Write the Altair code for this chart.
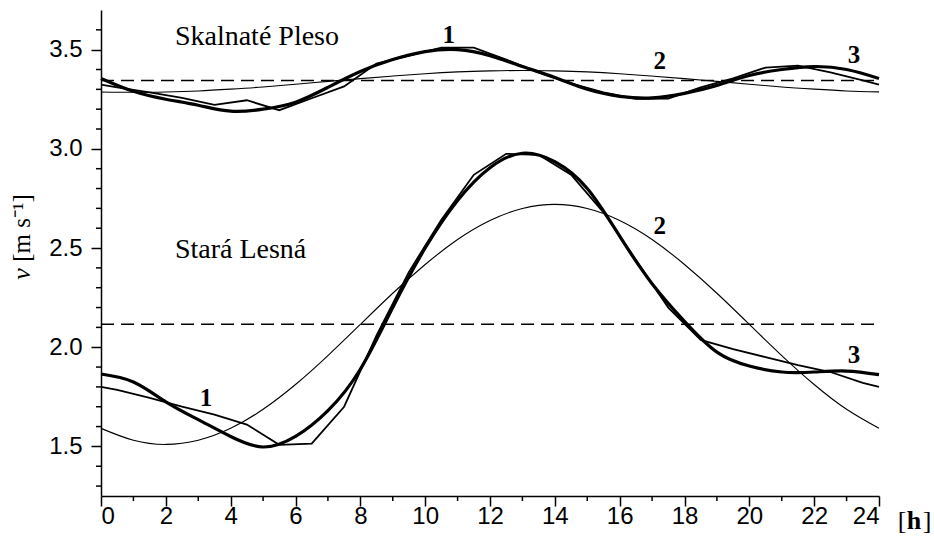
import altair as alt
import pandas as pd

# ---- data ----
hours = list(range(25))
half_hours = [0] + [h + 0.5 for h in range(24)] + [24]

# Skalnaté Pleso
sp_measured = [3.324, 3.31, 3.285, 3.257, 3.222, 3.245, 3.195, 3.255, 3.315, 3.43, 3.47,
               3.51, 3.51, 3.45, 3.385, 3.33, 3.285, 3.252, 3.253, 3.31, 3.355, 3.41,
               3.42, 3.385, 3.345, 3.324]
sp_harm1 = [3.287, 3.285, 3.287, 3.292, 3.301, 3.312, 3.326, 3.340, 3.354, 3.367, 3.379,
            3.388, 3.393, 3.395, 3.393, 3.388, 3.379, 3.367, 3.354, 3.340, 3.326, 3.312,
            3.301, 3.292, 3.287]
sp_harm3 = [3.355, 3.29, 3.25, 3.22, 3.19, 3.20, 3.235, 3.31, 3.39, 3.45, 3.49, 3.50, 3.47,
            3.415, 3.36, 3.30, 3.265, 3.257, 3.28, 3.32, 3.37, 3.40, 3.415, 3.40, 3.355]
sp_mean = 3.344

# Stará Lesná
sl_measured = [1.80, 1.785, 1.745, 1.70, 1.66, 1.61, 1.508, 1.514, 1.70, 2.06, 2.38, 2.643,
               2.869, 2.975, 2.97, 2.87, 2.68, 2.44, 2.20, 2.037, 1.99, 1.95, 1.91, 1.875,
               1.82, 1.80]
sl_harm1 = [1.591, 1.531, 1.510, 1.531, 1.591, 1.687, 1.812, 1.958, 2.115, 2.272, 2.417,
            2.543, 2.639, 2.699, 2.720, 2.699, 2.639, 2.543, 2.417, 2.272, 2.115, 1.958,
            1.812, 1.687, 1.591]
sl_harm3 = [1.865, 1.825, 1.725, 1.635, 1.55, 1.497, 1.55, 1.68, 1.889, 2.20, 2.50, 2.74,
            2.905, 2.978, 2.935, 2.80, 2.56, 2.32, 2.13, 1.975, 1.905, 1.875, 1.875, 1.88,
            1.862]
sl_mean = 2.116

stations = ["Skalnaté Pleso", "Stará Lesná"]
label_text = ["1", "2", "3", "1", "2", "3"]
label_t = [10.73, 17.24, 23.23, 3.24, 17.24, 23.23]
label_v = [3.534, 3.403, 3.433, 1.704, 2.572, 1.919]
station_t = [2.28, 2.28]
station_v = [3.525, 2.45]

x_major_ticks = [0, 2, 4, 6, 8, 10, 12, 14, 16, 18, 20, 22, 24]
x_minor_ticks = [1, 3, 5, 7, 9, 11, 13, 15, 17, 19, 21, 23]
y_major_ticks = [1.5, 2.0, 2.5, 3.0, 3.5]
y_minor_ticks = [1.3, 1.4, 1.6, 1.7, 1.8, 1.9, 2.1, 2.2, 2.3, 2.4, 2.6, 2.7, 2.8, 2.9,
                 3.1, 3.2, 3.3, 3.4, 3.6]

# ---- tables ----
measured = pd.concat([
    pd.DataFrame({"t": half_hours, "v": sp_measured, "station": stations[0]}),
    pd.DataFrame({"t": half_hours, "v": sl_measured, "station": stations[1]}),
])
harm1 = pd.concat([
    pd.DataFrame({"t": hours, "v": sp_harm1, "station": stations[0]}),
    pd.DataFrame({"t": hours, "v": sl_harm1, "station": stations[1]}),
])
harm3 = pd.concat([
    pd.DataFrame({"t": hours, "v": sp_harm3, "station": stations[0]}),
    pd.DataFrame({"t": hours, "v": sl_harm3, "station": stations[1]}),
])
means = pd.DataFrame({"t": [0, 24, 0, 24], "v": [sp_mean, sp_mean, sl_mean, sl_mean],
                      "station": [stations[0]] * 2 + [stations[1]] * 2})
labels = pd.DataFrame({"t": label_t, "v": label_v, "txt": label_text})
st_labels = pd.DataFrame({"t": station_t, "v": station_v, "txt": stations})
xminor = pd.DataFrame({"t": x_minor_ticks})
yminor = pd.DataFrame({"v": y_minor_ticks})

xscale = alt.Scale(domain=[0, 24], nice=False)
yscale = alt.Scale(domain=[1.25, 3.7], nice=False, zero=False)

xaxis = alt.Axis(values=x_major_ticks, title=None, labelOverlap=False, format="d",
                 tickSize=10, labelPadding=-2)
yaxis = alt.Axis(values=y_major_ticks, title=None, labelOverlap=False, format=".1f",
                 tickSize=10, labelPadding=9)

X = alt.X("t:Q", scale=xscale, axis=xaxis)
Y = alt.Y("v:Q", scale=yscale, axis=yaxis)

dashed = alt.Chart(means).mark_line(color="black", strokeWidth=1.5, strokeDash=[13, 7]).encode(
    x=X, y=Y, detail="station:N")
thin = alt.Chart(harm1).mark_line(color="black", strokeWidth=1.1, interpolate="natural").encode(
    x=X, y=Y, detail="station:N")
medium = alt.Chart(measured).mark_line(color="black", strokeWidth=1.8).encode(
    x=X, y=Y, detail="station:N")
thick = alt.Chart(harm3).mark_line(color="black", strokeWidth=3.2, interpolate="natural").encode(
    x=X, y=Y, detail="station:N")

# minor ticks, placed through the scales
xminor_rules = alt.Chart(xminor).mark_rule(color="black", strokeWidth=1.5).encode(
    x=alt.X("t:Q", scale=xscale), y=alt.value(486), y2=alt.value(491))
yminor_rules = alt.Chart(yminor).mark_rule(color="black", strokeWidth=1.5).encode(
    y=alt.Y("v:Q", scale=yscale), x=alt.value(-5), x2=alt.value(0))

num_text = alt.Chart(labels).mark_text(font="Liberation Serif", fontWeight="bold", fontSize=25,
                                       align="center", baseline="alphabetic", color="black").encode(
    x=alt.X("t:Q", scale=xscale), y=alt.Y("v:Q", scale=yscale), text="txt:N")
st_text = alt.Chart(st_labels).mark_text(font="Liberation Serif", fontSize=28,
                                         align="left", baseline="alphabetic", color="black").encode(
    x=alt.X("t:Q", scale=xscale), y=alt.Y("v:Q", scale=yscale), text="txt:N")

one = pd.DataFrame({"a": [0]})
def free_text(txt, px, py, **kw):
    return alt.Chart(one).mark_text(font="Liberation Serif", color="black", align="center",
                                    baseline="middle", **kw).encode(
        x=alt.value(px), y=alt.value(py), text=alt.value(txt))

ytitle_v = free_text("v", -79, 264, fontSize=26, fontStyle="italic", angle=270)
ytitle_u = free_text("[m s\u207b\u00b9]", -79, 218, fontSize=25, angle=270)
xt1 = free_text("[", 801, 511, fontSize=26)
xt2 = free_text("h", 813, 511, fontSize=26, fontWeight="bold")
xt3 = free_text("]", 826, 511, fontSize=26)

chart = alt.layer(
    dashed, thin, medium, thick, xminor_rules, yminor_rules,
    num_text, st_text, ytitle_v, ytitle_u, xt1, xt2, xt3
).properties(
    width=778, height=486,
    autosize=alt.AutoSizeParams(type="none"),
    padding={"left": 101, "top": 10, "right": 55, "bottom": 41},
).configure_view(stroke=None).configure_axis(
    grid=False, labelFont="Liberation Sans", labelFontSize=24, labelColor="black",
    tickColor="black", domainColor="black", tickWidth=1.5, domainWidth=1.5,
)

chart.save("out.html", embed_options={"renderer": "svg", "actions": False})
